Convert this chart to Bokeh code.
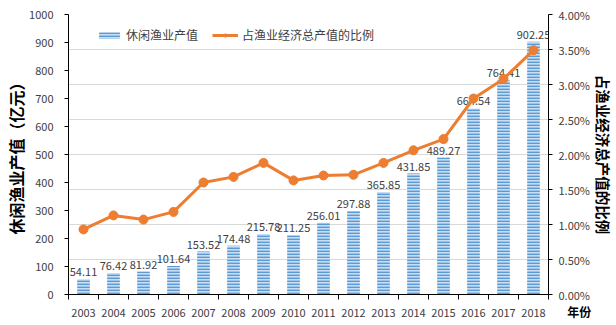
import math
from bokeh.plotting import figure
from bokeh.models import (ColumnDataSource, LinearAxis, Range1d, FixedTicker,
                          NumeralTickFormatter, Legend, LegendItem)
from bokeh.embed import file_html
from bokeh.resources import INLINE

years = [2003, 2004, 2005, 2006, 2007, 2008, 2009, 2010,
         2011, 2012, 2013, 2014, 2015, 2016, 2017, 2018]
output_value = [54.11, 76.42, 81.92, 101.64, 153.52, 174.48, 215.78, 211.25,
                256.01, 297.88, 365.85, 431.85, 489.27, 664.54, 764.41, 902.25]
share_pct = [0.93, 1.13, 1.07, 1.18, 1.60, 1.68, 1.88, 1.63,
             1.70, 1.71, 1.88, 2.06, 2.22, 2.80, 3.08, 3.49]
left_ticks = [0, 100, 200, 300, 400, 500, 600, 700, 800, 900, 1000]
right_ticks = [0.005, 0.01, 0.015, 0.02, 0.025, 0.03, 0.035, 0.04]

FONT = "Noto Sans CJK SC"
TXT = "#404040"

src = ColumnDataSource(dict(
    year=years,
    value=output_value,
    label=["%.2f" % v for v in output_value],
    ratio=[v / 100 for v in share_pct],
))

p = figure(width=616, height=325, output_backend="svg", toolbar_location=None,
           x_range=Range1d(2002.5, 2018.5), y_range=Range1d(0, 1000),
           min_border_left=55, min_border_right=64, min_border_top=14,
           min_border_bottom=31)
p.outline_line_color = None
p.extra_y_ranges = {"pct": Range1d(0, 0.04)}

p.xgrid.grid_line_color = None
p.ygrid.ticker = FixedTicker(ticks=[r * 25000 for r in right_ticks])
p.ygrid.grid_line_color = "#D9D9D9"
p.ygrid.grid_line_width = 1

bars = p.vbar(x="year", top="value", width=0.42, source=src,
              fill_color="#C9DCF1", line_color=None,
              hatch_pattern="horizontal_line", hatch_color="#5B9BD5",
              hatch_scale=3, hatch_weight=1.8)

p.text(x="year", y="value", text="label", source=src,
       text_align="center", text_baseline="bottom", y_offset=-3,
       text_font_size="11px", text_color=TXT, text_font={"value": FONT})

line = p.line(x="year", y="ratio", source=src, y_range_name="pct",
              line_color="#ED7D31", line_width=3)
dots = p.scatter(x="year", y="ratio", source=src, y_range_name="pct",
                 size=9, fill_color="#ED7D31", line_color="#ED7D31")

def style_title(ax, text, standoff, size):
    ax.axis_label = text
    ax.axis_label_text_font = FONT
    ax.axis_label_text_font_size = size
    ax.axis_label_text_font_style = "bold"
    ax.axis_label_text_color = "#000000"
    ax.axis_label_standoff_mode = "axis"
    ax.axis_label_standoff = standoff

xa = p.xaxis[0]
xa.ticker = FixedTicker(ticks=years, minor_ticks=[y - 0.5 for y in years] + [years[-1] + 0.5])
xa.major_tick_line_color = None
xa.minor_tick_out = 5
xa.minor_tick_in = 0
xa.minor_tick_line_color = "#000000"
xa.axis_line_color = "#000000"
xa.major_label_standoff = 8
xa.major_label_text_font = FONT
xa.major_label_text_font_size = "11px"
xa.major_label_text_color = TXT
style_title(xa, "\u3000\u3000\u3000\u3000\u00a0\u00a0\u00a0\u00a0\u00a0年份", 8, "12px")
xa.axis_label_align = "end"

ya = p.yaxis[0]
ya.ticker = FixedTicker(ticks=left_ticks)
ya.axis_line_color = "#000000"
ya.major_tick_line_color = "#000000"
ya.major_tick_out = 4
ya.major_tick_in = 0
ya.minor_tick_line_color = None
ya.major_label_standoff = 11
ya.major_label_text_font = FONT
ya.major_label_text_font_size = "11px"
ya.major_label_text_color = TXT
style_title(ya, "休闲渔业产值（亿元）", 41, "16px")

ra = LinearAxis(y_range_name="pct",
                ticker=FixedTicker(ticks=[0.0] + right_ticks),
                formatter=NumeralTickFormatter(format="0.00%"))
ra.axis_line_color = "#000000"
ra.major_tick_line_color = "#000000"
ra.major_tick_out = 4
ra.major_tick_in = 0
ra.minor_tick_line_color = None
ra.major_label_standoff = 6
ra.major_label_text_font = FONT
ra.major_label_text_font_size = "11px"
ra.major_label_text_color = TXT
style_title(ra, "占渔业经济总产值的比例", 44, "14.5px")
p.add_layout(ra, "right")

legend = Legend(items=[LegendItem(label="休闲渔业产值", renderers=[bars]),
                       LegendItem(label="占渔业经济总产值的比例", renderers=[line, dots])],
                orientation="horizontal", location=(28, 251),
                glyph_width=26, glyph_height=8, label_standoff=4, spacing=14,
                padding=5, border_line_color=None, background_fill_alpha=0,
                label_text_font=FONT, label_text_font_size="12px",
                label_text_color=TXT)
p.add_layout(legend, "center")

open("out.html", "w").write(file_html(p, INLINE))
